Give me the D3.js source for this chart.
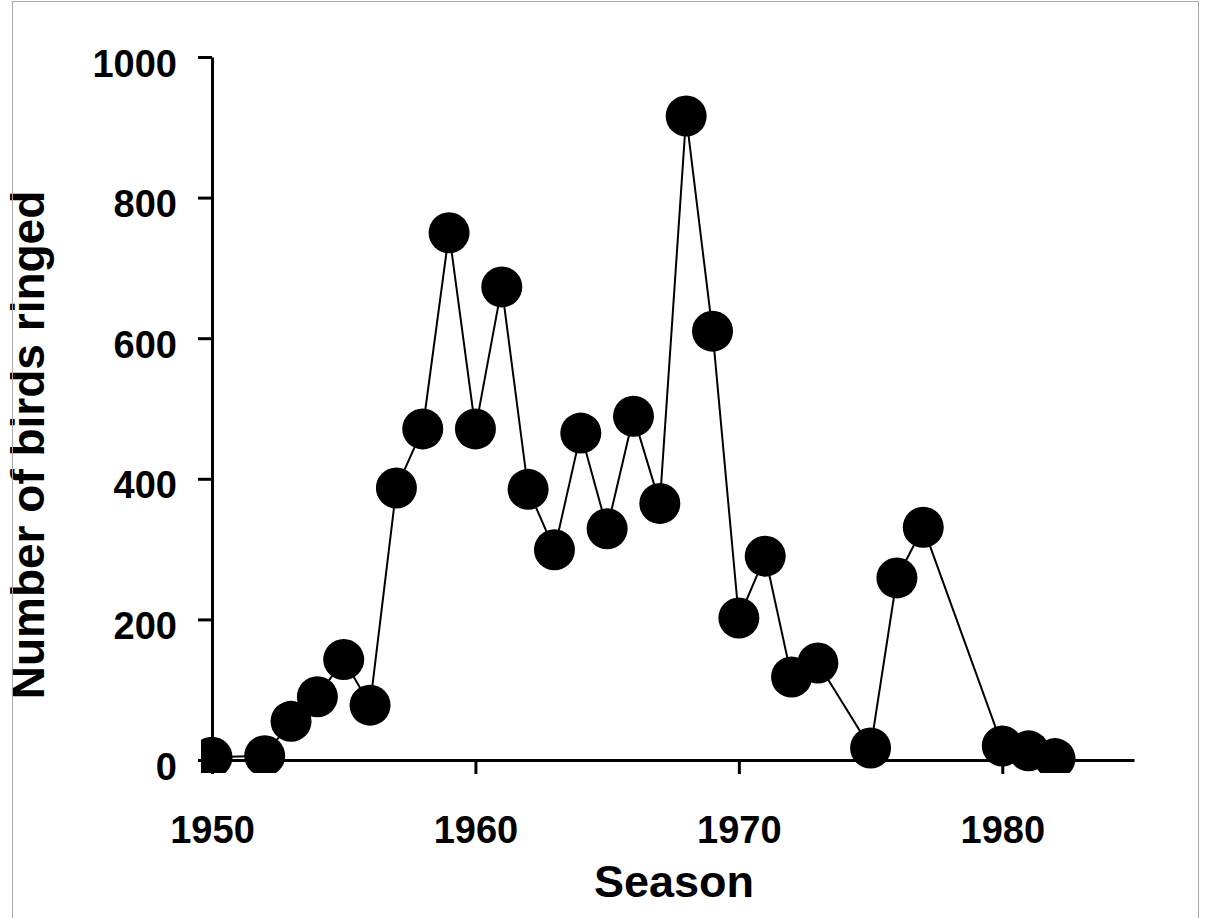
<!DOCTYPE html>
<html>
<head>
<meta charset="utf-8">
<title>Number of birds ringed per season</title>
<script src="https://d3js.org/d3.v7.min.js"></script>
<style>
  body { margin: 0; background: #fff; }
  svg { display: block; font-family: "Liberation Sans", Arial, sans-serif; }
</style>
</head>
<body>
<svg width="1205" height="918"></svg>
<script>
// values
const seasons = [1950, 1952, 1953, 1954, 1955, 1956, 1957, 1958, 1959, 1960,
                 1961, 1962, 1963, 1964, 1965, 1966, 1967, 1968, 1969, 1970,
                 1971, 1972, 1973, 1975, 1976, 1977, 1980, 1981, 1982];
const ringed = [4, 6, 55, 90, 143, 78, 387, 471, 750, 471,
                673, 385, 299, 465, 329, 489, 365, 916, 610, 202,
                290, 118, 138, 17, 259, 331, 20, 13, 2];
const xTicks = [1950, 1960, 1970, 1980];
const yTicks = [0, 200, 400, 600, 800, 1000];

const data = seasons.map((s, i) => ({ season: s, n: ringed[i] }));

const svg = d3.select('svg');

const x = d3.scaleLinear().domain([1950, 1985]).range([212, 1134]);
const y = d3.scaleLinear().domain([0, 1000]).range([760, 57]);

// y label, tight against the left edge
svg.append('text')
    .attr('transform', 'translate(44,445) rotate(-90)')
    .attr('text-anchor', 'middle')
    .style('font-size', '46px')
    .style('font-weight', 'bold')
    .text('Number of birds ringed');

// frame
svg.append('rect')
    .attr('x', 12.5).attr('y', 1.5)
    .attr('width', 1186).attr('height', 940)
    .attr('fill', 'none')
    .attr('stroke', '#a8a8a8')
    .attr('stroke-width', 1);

// axes
const yAxisG = svg.append('g')
    .attr('transform', 'translate(212,0)')
    .call(d3.axisLeft(y).tickValues(yTicks).tickFormat(d3.format('d'))
        .tickSize(14).tickSizeOuter(0).tickPadding(21));

const xAxisG = svg.append('g')
    .attr('transform', 'translate(0,760)')
    .call(d3.axisBottom(x).tickValues(xTicks).tickFormat(d3.format('d'))
        .tickSize(14).tickSizeOuter(0));

[yAxisG, xAxisG].forEach(g => {
    g.select('.domain').attr('stroke', '#000').attr('stroke-width', 3);
    g.selectAll('.tick line').attr('stroke', '#000').attr('stroke-width', 3);
    g.selectAll('.tick text')
        .attr('fill', '#000')
        .style('font-family', '"Liberation Sans", Arial, sans-serif')
        .style('font-size', '38px')
        .style('font-weight', 'bold');
});
yAxisG.selectAll('.tick text').attr('dy', '0.5em');
xAxisG.selectAll('.tick text').attr('y', 83).attr('dy', 0);

svg.append('text')
    .attr('x', 674).attr('y', 897)
    .attr('text-anchor', 'middle')
    .style('font-size', '45px')
    .style('font-weight', 'bold')
    .text('Season');

// data, clipped to the plot area
svg.append('clipPath').attr('id', 'plotClip')
  .append('rect').attr('x', 201).attr('y', 0).attr('width', 1000).attr('height', 773);

const plotG = svg.append('g').attr('clip-path', 'url(#plotClip)');

plotG.append('path')
    .datum(data)
    .attr('fill', 'none')
    .attr('stroke', '#000')
    .attr('stroke-width', 2)
    .attr('d', d3.line().x(d => x(d.season)).y(d => y(d.n)));

plotG.selectAll('circle')
    .data(data)
    .join('circle')
    .attr('cx', d => x(d.season))
    .attr('cy', d => y(d.n))
    .attr('r', 20.5)
    .attr('fill', '#000');
</script>
</body>
</html>
